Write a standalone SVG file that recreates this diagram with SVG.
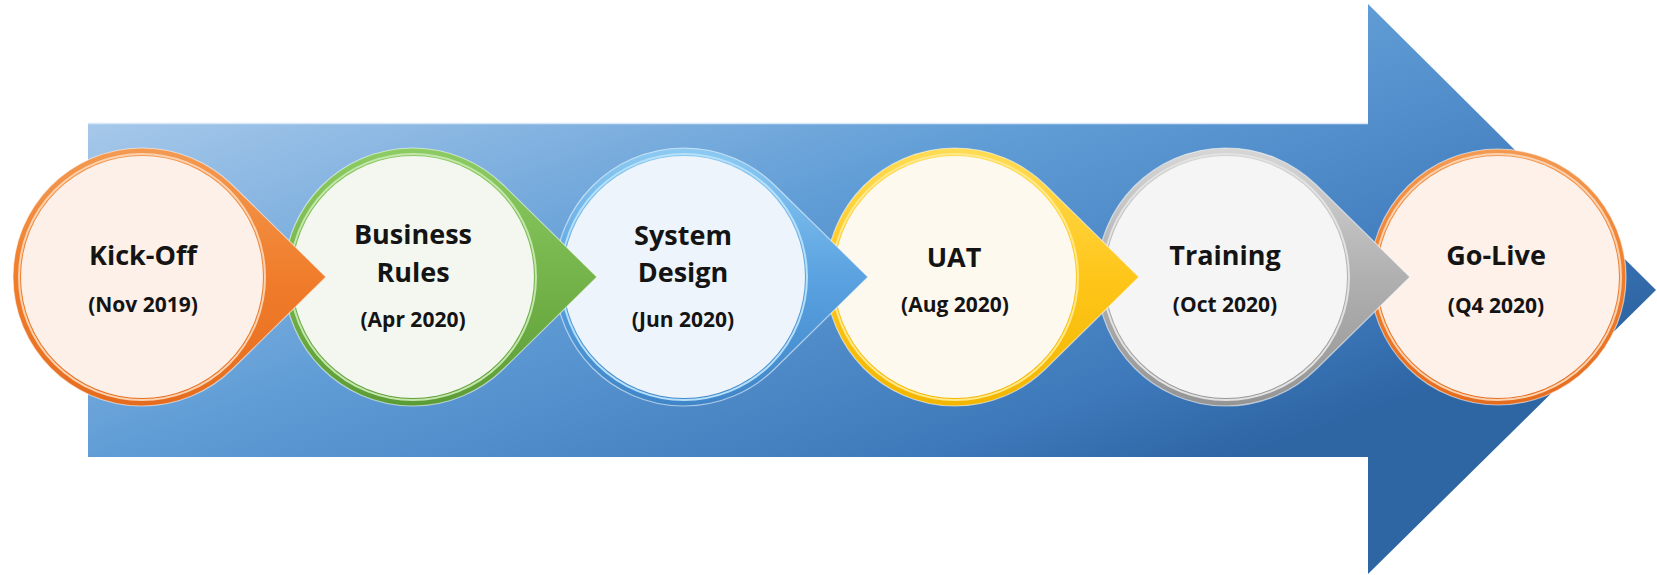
<svg xmlns="http://www.w3.org/2000/svg" xmlns:xlink="http://www.w3.org/1999/xlink" width="1657" height="575" viewBox="0 0 1657 575">
  <style>
    .t { font-family: "Open Sans", "Liberation Sans", sans-serif; font-weight: 700; fill: #141414; text-anchor: middle; }
    .title { font-size: 27px; }
    .date { font-size: 21px; }
    .edge { fill: none; stroke: #ffffff; stroke-opacity: 0.55; stroke-width: 1.2; }
  </style>
  <defs>
    <linearGradient id="gArrow" gradientUnits="userSpaceOnUse" x1="88" y1="123" x2="320" y2="782">
      <stop offset="0" stop-color="#a6c8ea"/>
      <stop offset="0.45" stop-color="#609dd6"/>
      <stop offset="0.85" stop-color="#3d78ba"/>
      <stop offset="1" stop-color="#2e65a3"/>
    </linearGradient>
    <linearGradient id="gOrange" x1="0" y1="0" x2="0" y2="1">
      <stop offset="0" stop-color="#f39a52"/>
      <stop offset="0.5" stop-color="#f07d2b"/>
      <stop offset="1" stop-color="#e56c1e"/>
    </linearGradient>
    <linearGradient id="gGreen" x1="0" y1="0" x2="0" y2="1">
      <stop offset="0" stop-color="#8ccc62"/>
      <stop offset="0.5" stop-color="#74b44a"/>
      <stop offset="1" stop-color="#5c9c36"/>
    </linearGradient>
    <linearGradient id="gBlue" x1="0" y1="0" x2="0" y2="1">
      <stop offset="0" stop-color="#8ccaf2"/>
      <stop offset="0.5" stop-color="#5aa2e0"/>
      <stop offset="1" stop-color="#3f85c8"/>
    </linearGradient>
    <linearGradient id="gYellow" x1="0" y1="0" x2="0" y2="1">
      <stop offset="0" stop-color="#ffdc55"/>
      <stop offset="0.5" stop-color="#ffc61a"/>
      <stop offset="1" stop-color="#f2b600"/>
    </linearGradient>
    <linearGradient id="gGrey" x1="0" y1="0" x2="0" y2="1">
      <stop offset="0" stop-color="#d6d6d6"/>
      <stop offset="0.5" stop-color="#b0b0b0"/>
      <stop offset="1" stop-color="#959595"/>
    </linearGradient>
    <path id="drop" d="M184,0 L90.4,-92 A129,129 0 1 0 90.4,92 Z"/>
  </defs>

  <g id="timeline-arrow">
    <path d="M88,123 L1368,123 L1368,4 L1656,290 L1368,574 L1368,457 L88,457 Z" fill="url(#gArrow)"/>
    <path d="M88,123.5 L1368,123.5" stroke="#d8e8f6" stroke-width="1.5" fill="none"/>
  </g>

  <g id="connectors"></g>

  <g id="node-go-live" transform="translate(1498,277)">
    <circle r="128" fill="url(#gOrange)"/>
    <circle r="128" class="edge"/>
    <circle r="123" fill="none" stroke="#fbd2b0" stroke-width="2"/>
    <circle r="121" fill="#fdf1ea"/>
    <text class="t title" x="-2" y="-12">Go-Live</text>
    <text class="t date" x="-2" y="36">(Q4 2020)</text>
  </g>

  <g id="node-training" transform="translate(1226,277)">
    <use href="#drop" fill="url(#gGrey)"/>
    <use href="#drop" class="edge"/>
    <circle r="123" fill="none" stroke="#e2e2e2" stroke-width="2"/>
    <circle r="121" fill="#f5f5f5"/>
    <text class="t title" x="-1" y="-12">Training</text>
    <text class="t date" x="-1" y="35">(Oct 2020)</text>
  </g>

  <g id="node-uat" transform="translate(955,277)">
    <use href="#drop" fill="url(#gYellow)"/>
    <use href="#drop" class="edge"/>
    <circle r="123" fill="none" stroke="#ffe98c" stroke-width="2"/>
    <circle r="121" fill="#fef9ee"/>
    <text class="t title" x="-1" y="-10">UAT</text>
    <text class="t date" x="0" y="35">(Aug 2020)</text>
  </g>

  <g id="node-system-design" transform="translate(684,277)">
    <use href="#drop" fill="url(#gBlue)"/>
    <use href="#drop" class="edge"/>
    <circle r="123" fill="none" stroke="#b5e0fa" stroke-width="2"/>
    <circle r="121" fill="#eef4fb"/>
    <text class="t title" x="-1" y="-32">System</text>
    <text class="t title" x="-1" y="5">Design</text>
    <text class="t date" x="-1" y="50">(Jun 2020)</text>
  </g>

  <g id="node-business-rules" transform="translate(413,277)">
    <use href="#drop" fill="url(#gGreen)"/>
    <use href="#drop" class="edge"/>
    <circle r="123" fill="none" stroke="#c4e6ad" stroke-width="2"/>
    <circle r="121" fill="#f3f7ef"/>
    <text class="t title" x="0" y="-33">Business</text>
    <text class="t title" x="0" y="5">Rules</text>
    <text class="t date" x="0" y="50">(Apr 2020)</text>
  </g>

  <g id="node-kick-off" transform="translate(142,277)">
    <use href="#drop" fill="url(#gOrange)"/>
    <use href="#drop" class="edge"/>
    <circle r="123" fill="none" stroke="#fbd2b0" stroke-width="2"/>
    <circle r="121" fill="#fdf0e8"/>
    <text class="t title" x="1" y="-12">Kick-Off</text>
    <text class="t date" x="1" y="35">(Nov 2019)</text>
  </g>
</svg>
